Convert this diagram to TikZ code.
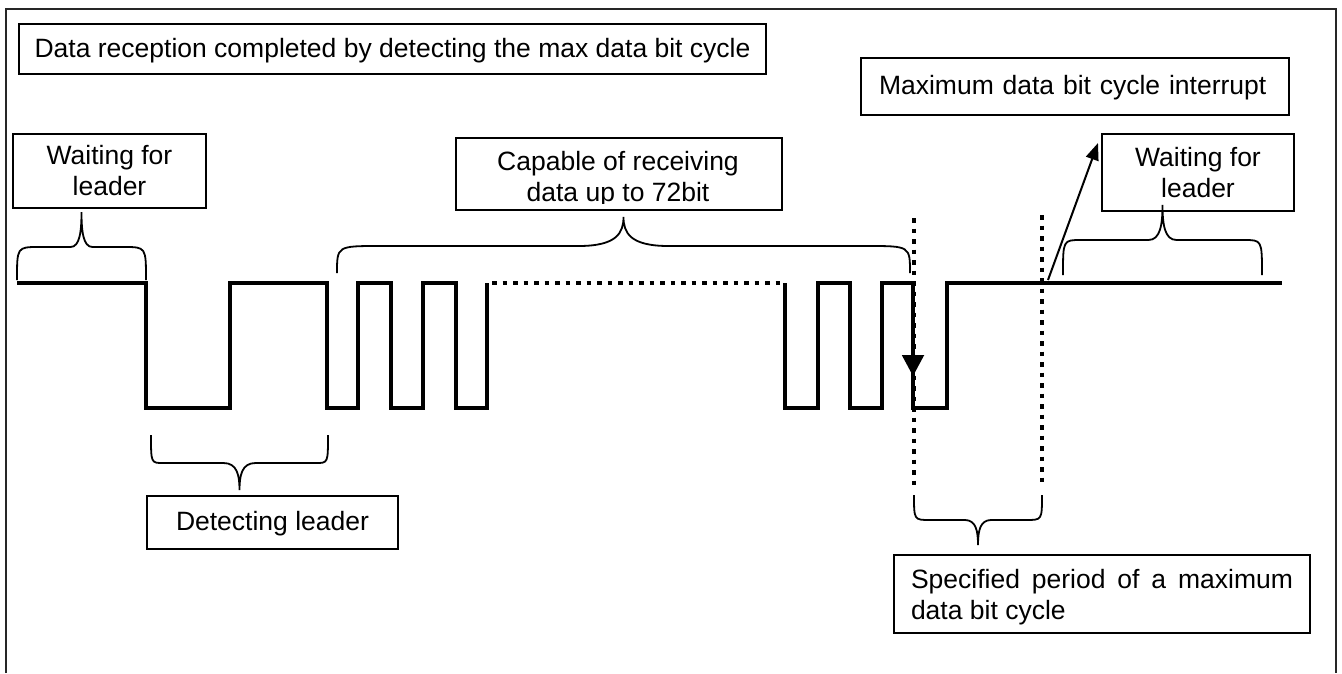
\documentclass[tikz,border=0pt]{standalone}
\usepackage{fontspec}
\setmainfont{Liberation Sans}
\usetikzlibrary{arrows.meta,calc}
\tolerance=10000
\hbadness=10000
\newcommand{\mybrace}[7]{%
  \pgfmathsetmacro\bxm{(#1+#2)/2}%
  \pgfmathsetmacro\bymid{#4+(#5-#4)*0.45}%
  \draw[bracestyle] (#1,#3) .. controls (#1,#4) and (#1,#4) .. ({#1+#6},#4)
    -- ({\bxm-#7},#4) .. controls ({\bxm-0.15*#7},#4) and (\bxm,\bymid) .. (\bxm,#5)
    .. controls (\bxm,\bymid) and ({\bxm+0.15*#7},#4) .. ({\bxm+#7},#4)
    -- ({#2-#6},#4) .. controls (#2,#4) and (#2,#4) .. (#2,#3);%
}
\begin{document}
\begin{tikzpicture}[x=1pt,y=-1pt,
  box/.style={draw, line width=2pt, rectangle, inner sep=0pt, anchor=north west,
    font=\fontsize{26.5pt}{31pt}\selectfont},
  oneline/.style={text height=20.5pt, text depth=4.5pt},
  txt/.style={inner sep=0pt, align=center, font=\fontsize{26.5pt}{31pt}\selectfont},
  sig/.style={line width=4.5pt, line join=miter},
  dots/.style={line width=4.5pt, dash pattern=on 4.5pt off 6pt},
  bracestyle/.style={line width=1.8pt},
  frame/.style={line width=2pt, draw=black!85},
  thinarrow/.style={line width=2pt, -{Triangle[length=17pt,width=13pt]}},
  downarrow/.style={line width=2pt, -{Triangle[length=21pt,width=22pt]}}
]
\useasboundingbox (0,0) rectangle (1342,673);
% outer frame
\draw[frame] (6,673) -- (6,9) -- (1336,9) -- (1336,673);

% boxes
\node[box, oneline, minimum width=747pt, minimum height=50pt, inner xsep=12pt]
  (title) at (18,23) {Data reception completed by detecting the max data bit cycle};
\node[box, oneline, minimum width=428pt, minimum height=57pt, text width=392pt, inner xsep=18pt, align=left]
  (maxint) at (860,57) {Maximum data bit cycle interrupt};
\node[box, align=center, minimum width=193pt, minimum height=74pt]
  (wait1) at (12,133) {Waiting for\\leader};
\node[box, align=center, minimum width=192pt, minimum height=77pt]
  (wait2) at (1101,133) {Waiting for\\leader};
\node[box, minimum width=326pt, minimum height=72pt] (cap) at (455,137) {};
\begin{scope}
  \clip (440,140) rectangle (800,203);
  \node[txt] (captext) at (618,179.6) {Capable of receiving\\data up to 72bit};
\end{scope}
\node[box, oneline, minimum width=251pt, minimum height=53pt]
  (detect) at (146,495) {Detecting leader};
\node[box, minimum height=78pt, text width=382pt, inner xsep=17pt, align=justify]
  (spec) at (893,554) {\noindent\rule{0pt}{24.5pt}Specified period of a maximum data bit cycle};

% signal
\draw[sig] (17,283) -- (146,283) -- (146,408) -- (230,408) -- (230,283) -- (327,283)
  -- (327,408) -- (358,408) -- (358,283) -- (391,283) -- (391,408) -- (423,408)
  -- (423,283) -- (456,283) -- (456,408) -- (487,408) -- (487,283);
\draw[dots] (492,283) -- (785,283);
\draw[sig] (785,283) -- (785,408) -- (818,408) -- (818,283) -- (850,283) -- (850,408)
  -- (882,408) -- (882,283) -- (913,283) -- (913,408) -- (947,408) -- (947,283) -- (1282,283);

% dotted markers
\draw[dots] (914,218) -- (914,490);
\draw[dots] (1042,215) -- (1042,485);

% arrows
\coordinate (fall) at (913,283);
\coordinate (falltip) at (913,376);
\draw[downarrow] (fall) -- (falltip);
\coordinate (sigpt) at (1048,280);
\coordinate (arrtip) at ($(wait2.north west)+(-3,10)$);
\draw[thinarrow] (sigpt) -- (arrtip);

% braces
\mybrace{17}{146}{280}{247}{212}{22}{11}
\mybrace{1063}{1262}{275}{240}{205}{18}{14}
\mybrace{337}{910}{273}{246}{217}{43}{45}
\mybrace{151}{328}{435}{463}{490}{12}{16}
\mybrace{914}{1042}{495}{520}{545}{16}{13}
\end{tikzpicture}
\end{document}
